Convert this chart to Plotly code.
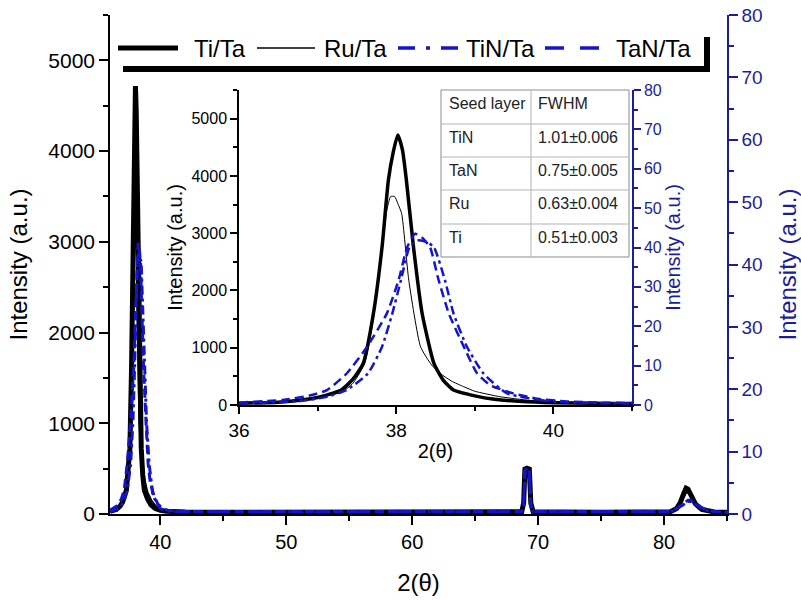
import plotly.graph_objects as go

# ---------------- data ----------------
legend_names = ["Ti/Ta", "Ru/Ta", "TiN/Ta", "TaN/Ta"]

# Ti/Ta  (left axis, a.u.)
ti_x = [36.0, 36.5, 36.8, 37.0, 37.3, 37.45, 37.58, 37.71, 37.82, 37.9, 37.96, 38.02, 38.08,
        38.13, 38.22, 38.33, 38.48, 38.6, 38.73, 39.0, 39.25, 39.6, 40.0, 40.5, 41.0, 42.0,
        45.0, 50.0, 55.0, 60.0, 65.0, 68.7, 68.85, 68.95, 69.1, 69.3, 69.42, 69.6, 75.0,
        80.5, 81.0, 81.3, 81.55, 81.75, 81.9, 82.2, 82.5, 83.0, 83.5, 84.0, 85.0]
ti_y = [30, 50, 87, 130, 261, 450, 726, 1597, 2758, 3920, 4400, 4716, 4450,
        3920, 2758, 1597, 726, 430, 261, 160, 100, 60, 40, 30, 25, 22,
        20, 22, 20, 22, 20, 25, 120, 495, 505, 495, 120, 25, 20,
        25, 60, 130, 220, 285, 275, 180, 110, 50, 30, 22, 20]

# Ru/Ta  (left axis, a.u.)
ru_x = [36.0, 36.5, 36.8, 37.0, 37.3, 37.45, 37.6, 37.72, 37.82, 37.88, 37.93, 37.98, 38.02,
        38.07, 38.16, 38.31, 38.45, 38.56, 38.7, 38.86, 39.0, 39.32, 39.7, 40.2, 41.0, 42.0,
        45.0, 50.0, 55.0, 60.0, 65.0, 68.7, 68.85, 68.95, 69.1, 69.3, 69.42, 69.6, 75.0,
        80.5, 81.0, 81.3, 81.55, 81.8, 82.0, 82.25, 82.5, 83.0, 83.5, 84.0, 85.0]
ru_y = [28, 48, 90, 130, 220, 380, 726, 1597, 2758, 3400, 3640, 3640, 3520,
        3339, 2178, 1016, 700, 552, 420, 319, 240, 145, 80, 45, 30, 22,
        20, 22, 20, 22, 20, 25, 120, 485, 500, 485, 120, 25, 20,
        25, 55, 110, 180, 240, 225, 150, 95, 45, 28, 22, 20]

# TiN/Ta  (right axis, a.u.)
tin_x = [36.0, 36.78, 37.1, 37.37, 37.64, 37.82, 37.95, 38.06, 38.17, 38.28, 38.38, 38.48,
         38.62, 38.73, 38.9, 39.11, 39.41, 39.96, 40.5, 41.0, 42.0, 50.0, 60.0, 68.7,
         68.85, 68.95, 69.1, 69.3, 69.42, 69.6, 75.0, 80.5, 81.0, 81.5, 81.9, 82.2,
         82.6, 83.0, 83.5, 84.0, 85.0]
tin_y = [0.4, 1.0, 2.0, 3.8, 8.0, 14.8, 23.2, 31.7, 40.1, 41.8, 41.5, 40.1,
         31.7, 23.2, 14.8, 8.0, 2.95, 0.9, 0.5, 0.4, 0.35, 0.35, 0.35, 0.35,
         1.4, 6.8, 7.2, 6.8, 1.4, 0.35, 0.35, 0.35, 0.8, 1.4, 2.0, 2.0,
         1.5, 0.9, 0.5, 0.35, 0.3]

# TaN/Ta  (right axis, a.u.)
tan_x = [36.0, 36.56, 36.9, 37.12, 37.37, 37.63, 37.88, 38.03, 38.14, 38.24, 38.33, 38.43,
         38.54, 38.67, 38.86, 39.03, 39.2, 39.49, 39.8, 40.17, 40.6, 41.0, 42.0, 50.0,
         60.0, 68.7, 68.85, 68.95, 69.1, 69.3, 69.42, 69.6, 75.0, 80.5, 81.0, 81.5,
         81.9, 82.1, 82.5, 83.0, 83.5, 84.0, 85.0]
tan_y = [0.6, 1.3, 2.4, 3.8, 8.0, 14.8, 23.2, 31.7, 40.1, 43.5, 42.5, 40.1,
         31.7, 23.2, 14.8, 8.0, 5.0, 2.95, 1.6, 0.9, 0.6, 0.5, 0.4, 0.4,
         0.4, 0.4, 1.5, 7.0, 7.4, 7.0, 1.5, 0.4, 0.4, 0.4, 0.9, 1.6,
         2.2, 2.2, 1.7, 1.0, 0.6, 0.4, 0.3]

# FWHM table
table_header = ["Seed layer", "FWHM"]
seed_layers = ["TiN", "TaN", "Ru", "Ti"]
fwhm_values = ["1.01±0.006", "0.75±0.005", "0.63±0.004", "0.51±0.003"]

# ---------------- styling ----------------
FONT = "Liberation Sans, Arial, sans-serif"
AXBLUE = "#1D1D9A"
CBLUE = "#1414CC"
W, H = 801, 600
L, R, T, B = 110, 727, 15, 514          # main plot area in pixels
PW, PH = R - L, B - T


def px(xp):
    return (xp - L) / PW


def py(yp):
    return (B - yp) / PH


DASHDOT = "9px,4px,3px,4px"
DASH = "9px,5px"

fig = go.Figure()

# main plot traces
fig.add_trace(go.Scatter(x=ti_x, y=ti_y, mode="lines", name=legend_names[0],
                         line=dict(color="black", width=5), xaxis="x", yaxis="y"))
fig.add_trace(go.Scatter(x=ru_x, y=ru_y, mode="lines", name=legend_names[1],
                         line=dict(color="black", width=1.5), xaxis="x", yaxis="y"))
fig.add_trace(go.Scatter(x=tin_x, y=tin_y, mode="lines", name=legend_names[2],
                         line=dict(color=CBLUE, width=3, dash=DASHDOT), xaxis="x", yaxis="y2"))
fig.add_trace(go.Scatter(x=tan_x, y=tan_y, mode="lines", name=legend_names[3],
                         line=dict(color=CBLUE, width=3, dash=DASH), xaxis="x", yaxis="y2"))

# inset traces (same data, zoomed on the main peak)
fig.add_trace(go.Scatter(x=ti_x, y=ti_y, mode="lines", name=legend_names[0],
                         line=dict(color="black", width=3.5, shape="spline", smoothing=0.5),
                         xaxis="x2", yaxis="y3"))
fig.add_trace(go.Scatter(x=ru_x, y=ru_y, mode="lines", name=legend_names[1],
                         line=dict(color="black", width=1, shape="spline", smoothing=0.5),
                         xaxis="x2", yaxis="y3"))
fig.add_trace(go.Scatter(x=tin_x, y=tin_y, mode="lines", name=legend_names[2],
                         line=dict(color=CBLUE, width=2.5, dash=DASHDOT, shape="spline", smoothing=0.5),
                         xaxis="x2", yaxis="y4"))
fig.add_trace(go.Scatter(x=tan_x, y=tan_y, mode="lines", name=legend_names[3],
                         line=dict(color=CBLUE, width=2.5, dash=DASH, shape="spline", smoothing=0.5),
                         xaxis="x2", yaxis="y4"))

common = dict(showgrid=False, zeroline=False, showline=True, linewidth=1.5, tickwidth=1.5,
              automargin=False)

inset_x = [px(239), px(632)]
inset_y = [py(405), py(90)]

fig.update_layout(
    width=W, height=H, autosize=False,
    margin=dict(l=L, r=W - R, t=T, b=H - B, pad=0, autoexpand=False),
    paper_bgcolor="white", plot_bgcolor="white",
    showlegend=False,
    font=dict(family=FONT, color="black"),
    xaxis=dict(domain=[0, 1], anchor="y", range=[36, 85], tickmode="linear", tick0=40, dtick=10,
               ticks="outside", ticklen=9, linecolor="black", tickcolor="black",
               tickfont=dict(size=20),
               minor=dict(ticks="outside", ticklen=5, dtick=5, tick0=35, tickcolor="black", tickwidth=1.5),
               title=dict(text="2(θ)", font=dict(size=24), standoff=22), **common),
    xaxis3=dict(overlaying="x", side="top", anchor="y", range=[36, 85], tickmode="linear", tick0=40,
                dtick=10, ticks="inside", ticklen=5, linecolor=AXBLUE, tickcolor=AXBLUE,
                showticklabels=False, **common),
    yaxis=dict(domain=[0, 1], anchor="x", range=[0, 5500], tickmode="linear", tick0=0, dtick=1000,
               ticks="outside", ticklen=9, linecolor="black", tickcolor="black",
               tickfont=dict(size=21),
               minor=dict(ticks="outside", ticklen=5, dtick=500, tickcolor="black", tickwidth=1.5),
               title=dict(text="Intensity (a.u.)", font=dict(size=24), standoff=14), **common),
    yaxis2=dict(overlaying="y", side="right", anchor="x", range=[0, 80], tickmode="linear", tick0=0,
                dtick=10, ticks="outside", ticklen=9, linecolor=AXBLUE, tickcolor=AXBLUE,
                tickfont=dict(size=19, color=AXBLUE),
                minor=dict(ticks="outside", ticklen=5, dtick=5, tickcolor=AXBLUE, tickwidth=1.5),
                title=dict(text="Intensity (a.u.)", font=dict(size=24, color=AXBLUE), standoff=22),
                **common),
    xaxis2=dict(domain=inset_x, anchor="y3", range=[36, 41], tickmode="linear", tick0=36, dtick=2,
                ticks="outside", ticklen=7, linecolor="black", tickcolor="black",
                tickfont=dict(size=19),
                minor=dict(ticks="outside", ticklen=4, dtick=1, tickcolor="black", tickwidth=1.5),
                title=dict(text="2(θ)", font=dict(size=20), standoff=4), **common),
    xaxis4=dict(overlaying="x2", side="top", anchor="y3", range=[36, 41], tickmode="linear", tick0=36,
                dtick=1, ticks="inside", ticklen=4, linecolor=AXBLUE, tickcolor=AXBLUE,
                showticklabels=False, **common),
    yaxis3=dict(domain=inset_y, anchor="x2", range=[0, 5500], tickmode="linear", tick0=0, dtick=1000,
                ticks="outside", ticklen=7, linecolor="black", tickcolor="black",
                tickfont=dict(size=16),
                minor=dict(ticks="outside", ticklen=4, dtick=500, tickcolor="black", tickwidth=1.5),
                title=dict(text="Intensity (a.u.)", font=dict(size=20), standoff=3), **common),
    yaxis4=dict(overlaying="y3", side="right", anchor="x2", range=[0, 80], tickmode="linear", tick0=0,
                dtick=10, ticks="outside", ticklen=7, linecolor=AXBLUE, tickcolor=AXBLUE,
                tickfont=dict(size=16, color=AXBLUE),
                minor=dict(ticks="outside", ticklen=4, dtick=5, tickcolor=AXBLUE, tickwidth=1.5),
                title=dict(text="Intensity (a.u.)", font=dict(size=20, color=AXBLUE), standoff=0),
                **common),
)

shapes = []
annotations = []

# ---- FWHM table (drawn over the inset) ----
tx0, tx1, tcol = 441, 629, 531
row_edges = [90, 124, 157, 190, 224, 257]
shapes.append(dict(type="rect", xref="paper", yref="paper", x0=px(tx0), x1=px(tx1),
                   y0=py(row_edges[-1]), y1=py(row_edges[0]), fillcolor="white",
                   line=dict(color="#8c8c8c", width=1), layer="above"))
shapes.append(dict(type="line", xref="paper", yref="paper", x0=px(tcol), x1=px(tcol),
                   y0=py(row_edges[-1]), y1=py(row_edges[0]), line=dict(color="#b4b4b4", width=1),
                   layer="above"))
for ye in row_edges[1:-1]:
    shapes.append(dict(type="line", xref="paper", yref="paper", x0=px(tx0), x1=px(tx1),
                       y0=py(ye), y1=py(ye), line=dict(color="#b4b4b4", width=1), layer="above"))
rows = [table_header] + [[s, f] for s, f in zip(seed_layers, fwhm_values)]
for i, (c1, c2) in enumerate(rows):
    ytop = row_edges[i] + 3
    for xt, txt in ((tx0 + 6, c1), (tcol + 5, c2)):
        annotations.append(dict(xref="paper", yref="paper", x=px(xt), y=py(ytop), text=txt,
                                showarrow=False, xanchor="left", yanchor="top",
                                font=dict(size=16, family=FONT, color="#222222")))

# ---- legend (Origin-style with shadow frame) ----
ly = 48
shapes.append(dict(type="rect", xref="paper", yref="paper", x0=px(123), x1=px(710),
                   y0=py(72), y1=py(66), fillcolor="black", line=dict(width=0), layer="above"))
shapes.append(dict(type="rect", xref="paper", yref="paper", x0=px(704), x1=px(710),
                   y0=py(72), y1=py(37), fillcolor="black", line=dict(width=0), layer="above"))
leg_items = [
    (118, 178, 192, dict(color="black", width=5)),
    (257, 315, 322, dict(color="black", width=1.5)),
    (398, 460, 464, dict(color=CBLUE, width=3.5, dash="17px,11px,4px,11px")),
    (545, 600, 614, dict(color=CBLUE, width=3.5, dash="19px,16px")),
]
for (x0, x1, xt, ln), name in zip(leg_items, legend_names):
    shapes.append(dict(type="line", xref="paper", yref="paper", x0=px(x0), x1=px(x1),
                       y0=py(ly), y1=py(ly), line=ln, layer="above"))
    annotations.append(dict(xref="paper", yref="paper", x=px(xt), y=py(ly + 1), text=name,
                            showarrow=False, xanchor="left", yanchor="middle",
                            font=dict(size=24, family=FONT, color="black")))

fig.update_layout(shapes=shapes, annotations=annotations)

fig.write_html("out.html", config={"displayModeBar": False},
               post_script="document.body.style.margin='0px';document.body.style.overflow='hidden';")
